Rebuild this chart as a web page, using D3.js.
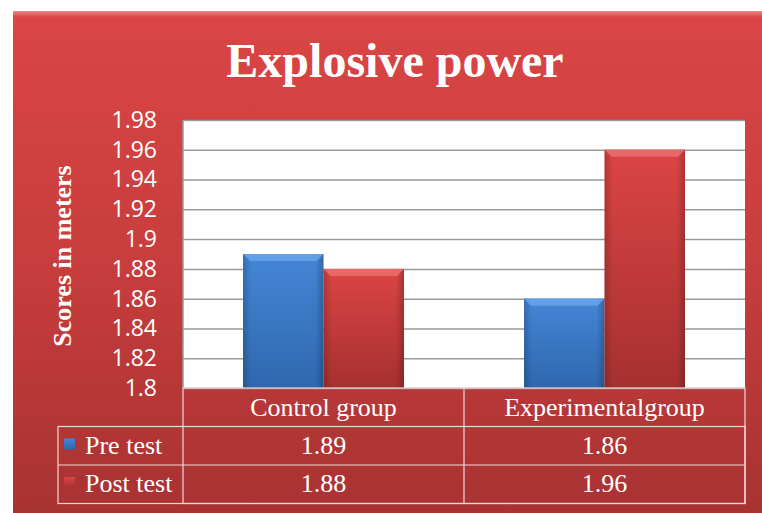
<!DOCTYPE html>
<html>
<head>
<meta charset="utf-8">
<script src="https://cdn.jsdelivr.net/npm/d3@7"></script>
<style>
body { margin: 0; background: #fff; }
svg { display: block; }
</style>
</head>
<body>
<div id="chart"></div>
<script>
var width = 762;
var height = 513;

var categories = ["Control group", "Experimentalgroup"];
var seriesNames = ["Pre test", "Post test"];
var preTest = [1.89, 1.86];
var postTest = [1.88, 1.96];
var yTicks = [1.8, 1.82, 1.84, 1.86, 1.88, 1.9, 1.92, 1.94, 1.96, 1.98];

var plotLeft = 183, plotRight = 745, plotTop = 120, plotBottom = 388;
var rowHeight = 38.5;

var svg = d3.select("#chart").append("svg")
    .attr("width", width)
    .attr("height", height);

var defs = svg.append("defs");

function vGrad(id, stops) {
    var g = defs.append("linearGradient").attr("id", id)
        .attr("x1", 0).attr("y1", 0).attr("x2", 0).attr("y2", 1);
    stops.forEach(function (s) {
        g.append("stop").attr("offset", s[0]).attr("stop-color", s[1]);
    });
}
function hGrad(id, stops) {
    var g = defs.append("linearGradient").attr("id", id)
        .attr("x1", 0).attr("y1", 0).attr("x2", 1).attr("y2", 0);
    stops.forEach(function (s) {
        g.append("stop").attr("offset", s[0]).attr("stop-color", s[1]);
    });
}
vGrad("panel", [[0, "#db4545"], [0.5, "#c83d3d"], [1, "#a83232"]]);
vGrad("bevel", [[0, "#f08a8a"], [1, "#db4545"]]);
vGrad("blueFill", [[0, "#4486d6"], [1, "#2f67ad"]]);
vGrad("redFill", [[0, "#dc4444"], [1, "#a63030"]]);
hGrad("barSide", [[0, "rgba(0,0,0,0.18)"], [0.1, "rgba(0,0,0,0)"], [0.9, "rgba(0,0,0,0)"], [1, "rgba(0,0,0,0.22)"]]);

// background panel
svg.append("rect")
    .attr("x", 13).attr("y", 11)
    .attr("width", width - 13).attr("height", height - 11)
    .attr("fill", "url(#panel)");
svg.append("rect")
    .attr("x", 13).attr("y", 11)
    .attr("width", width - 13).attr("height", 6)
    .attr("fill", "url(#bevel)");

// title
svg.append("text")
    .attr("x", 395).attr("y", 77)
    .attr("text-anchor", "middle")
    .attr("font-family", "Liberation Serif, serif")
    .attr("font-weight", "bold")
    .attr("font-size", 48)
    .attr("fill", "#fff")
    .text("Explosive power");

// plot area
svg.append("rect")
    .attr("x", plotLeft).attr("y", plotTop)
    .attr("width", plotRight - plotLeft).attr("height", plotBottom - plotTop)
    .attr("fill", "#fff");

var xScale = d3.scaleBand()
    .domain(categories)
    .range([plotLeft, plotRight]);

var x2Scale = d3.scaleBand()
    .domain(seriesNames)
    .range([60, xScale.bandwidth() - 60]);

var yScale = d3.scaleLinear()
    .domain([1.8, 1.98])
    .range([plotBottom, plotTop]);

// gridlines
var yGrid = d3.axisLeft(yScale)
    .tickValues(yTicks)
    .tickSize(-(plotRight - plotLeft))
    .tickFormat("");
svg.append("g")
    .attr("transform", "translate(" + plotLeft + ",0)")
    .call(yGrid)
    .call(function (g) { g.select(".domain").remove(); })
    .selectAll("line")
    .attr("stroke", "#9a9a9a")
    .attr("stroke-width", 1.5);

svg.append("line")
    .attr("x1", plotLeft).attr("x2", plotLeft)
    .attr("y1", plotTop).attr("y2", plotBottom)
    .attr("stroke", "#9a9a9a").attr("stroke-width", 1.5);

// y axis labels
var yAxis = d3.axisLeft(yScale)
    .tickValues(yTicks)
    .tickSize(0)
    .tickPadding(26)
    .tickFormat(function (d) { return String(+d.toFixed(2)); });
svg.append("g")
    .attr("transform", "translate(" + plotLeft + ",0)")
    .call(yAxis)
    .call(function (g) { g.select(".domain").remove(); })
    .selectAll("text")
    .attr("font-family", "Open Sans, sans-serif")
    .attr("font-size", 23)
    .attr("fill", "#fff");

// y axis title
svg.append("text")
    .attr("transform", "translate(71,256) rotate(-90)")
    .attr("text-anchor", "middle")
    .attr("font-family", "Liberation Serif, serif")
    .attr("font-weight", "bold")
    .attr("font-size", 26)
    .attr("fill", "#fff")
    .text("Scores in meters");

// bars
var barData = [];
categories.forEach(function (c, i) {
    barData.push({cat: c, series: seriesNames[0], value: preTest[i]});
    barData.push({cat: c, series: seriesNames[1], value: postTest[i]});
});

var bars = svg.selectAll(".bar")
    .data(barData).enter().append("g")
    .attr("class", "bar")
    .attr("transform", function (d) {
        return "translate(" + (xScale(d.cat) + x2Scale(d.series)) + "," + yScale(d.value) + ")";
    });

bars.append("rect")
    .attr("width", x2Scale.bandwidth())
    .attr("height", function (d) { return plotBottom - yScale(d.value); })
    .attr("fill", function (d) { return d.series === "Pre test" ? "url(#blueFill)" : "url(#redFill)"; });
bars.append("rect")
    .attr("width", x2Scale.bandwidth())
    .attr("height", function (d) { return plotBottom - yScale(d.value); })
    .attr("fill", "url(#barSide)");
bars.append("path")
    .attr("d", function () {
        var w = x2Scale.bandwidth();
        return "M0,0 L" + w + ",0 L" + (w - 7) + ",7 L7,7 Z";
    })
    .attr("fill", function (d) { return d.series === "Pre test" ? "#6aa6ec" : "#ec7070"; })
    .attr("opacity", 0.8);

// data table
var tableTop = plotBottom;
var legendLeft = 58;
var cellStroke = "#f1d6d6";

svg.append("rect")
    .attr("x", plotLeft).attr("y", tableTop)
    .attr("width", plotRight - plotLeft).attr("height", rowHeight * 3)
    .attr("fill", "none").attr("stroke", cellStroke).attr("stroke-width", 1.2);
svg.append("rect")
    .attr("x", legendLeft).attr("y", tableTop + rowHeight)
    .attr("width", plotRight - legendLeft).attr("height", rowHeight * 2)
    .attr("fill", "none").attr("stroke", cellStroke).attr("stroke-width", 1.2);
svg.append("line")
    .attr("x1", legendLeft).attr("x2", plotRight)
    .attr("y1", tableTop + rowHeight * 2).attr("y2", tableTop + rowHeight * 2)
    .attr("stroke", cellStroke).attr("stroke-width", 1.2);
svg.append("line")
    .attr("x1", xScale(categories[1])).attr("x2", xScale(categories[1]))
    .attr("y1", tableTop).attr("y2", tableTop + rowHeight * 3)
    .attr("stroke", cellStroke).attr("stroke-width", 1.2);

var tableFont = "Liberation Serif, serif";
var tableSize = 26;

svg.selectAll(".catLabel")
    .data(categories).enter().append("text")
    .attr("x", function (d) { return xScale(d) + xScale.bandwidth() / 2; })
    .attr("y", tableTop + 28)
    .attr("text-anchor", "middle")
    .attr("font-family", tableFont)
    .attr("font-size", tableSize)
    .attr("fill", "#fff")
    .text(function (d) { return d; });

var rows = [preTest, postTest];
rows.forEach(function (vals, r) {
    var y = tableTop + rowHeight * (r + 1);
    svg.append("rect")
        .attr("x", legendLeft + 6).attr("y", y + 12)
        .attr("width", 11).attr("height", 11)
        .attr("fill", r === 0 ? "url(#blueFill)" : "url(#redFill)");
    svg.append("text")
        .attr("x", legendLeft + 27).attr("y", y + 27)
        .attr("font-family", tableFont)
        .attr("font-size", tableSize)
        .attr("fill", "#fff")
        .text(seriesNames[r]);
    svg.selectAll(".val" + r)
        .data(vals).enter().append("text")
        .attr("x", function (d, i) { return xScale(categories[i]) + xScale.bandwidth() / 2; })
        .attr("y", y + 27)
        .attr("text-anchor", "middle")
        .attr("font-family", tableFont)
        .attr("font-size", tableSize)
        .attr("fill", "#fff")
        .text(function (d) { return d.toFixed(2); });
});
</script>
</body>
</html>
